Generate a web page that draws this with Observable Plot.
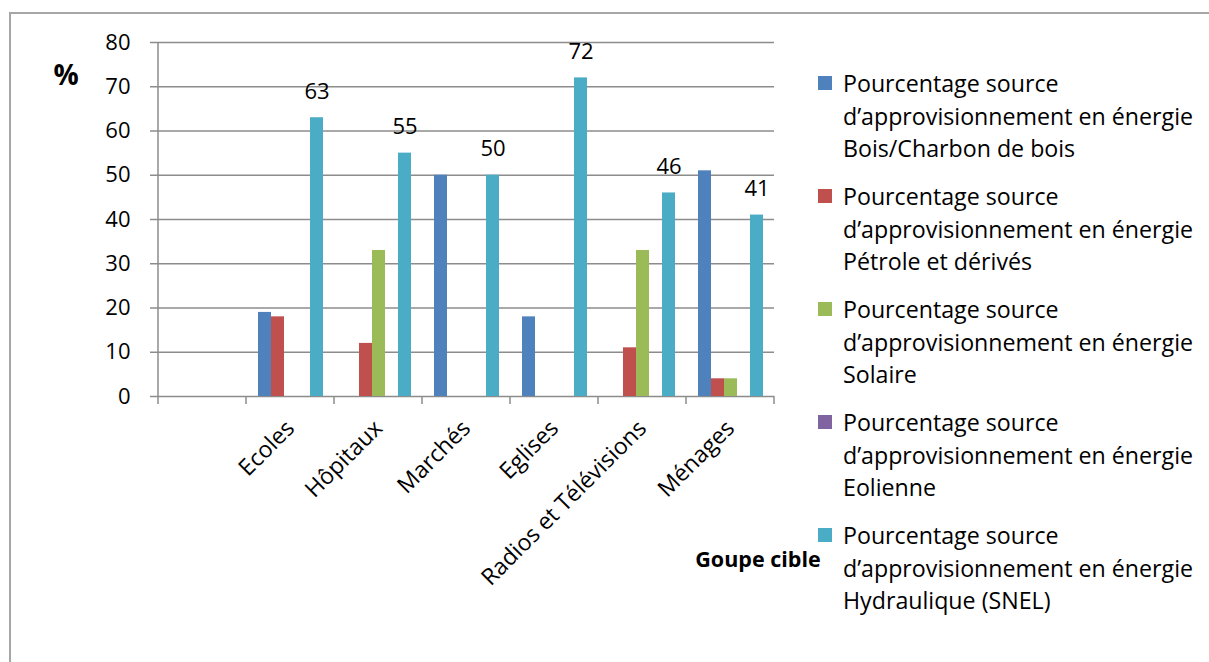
<!DOCTYPE html>
<html><head><meta charset="utf-8">
<script src="https://cdn.jsdelivr.net/npm/d3@7"></script>
<script src="https://cdn.jsdelivr.net/npm/@observablehq/plot@0.6"></script>
<style>
html,body{margin:0;padding:0;background:#fff;overflow:hidden;}
#wrap{position:relative;width:1209px;height:662px;font-family:"Open Sans",sans-serif;color:#000;overflow:hidden;}
#border{position:absolute;left:9px;top:12px;width:1400px;height:800px;border:2px solid #a6a6a6;box-sizing:border-box;}
#chart{position:absolute;left:0;top:0;}
.lbl{position:absolute;transform:translate(-50%,-50%);white-space:nowrap;line-height:1;}
#pct{left:66px;top:74px;font-weight:bold;font-size:28px;}
#xlabel{left:758px;top:559px;font-weight:bold;font-size:21.5px;}
.item{position:absolute;left:818px;font-size:23.2px;line-height:32.5px;white-space:nowrap;}
.item .txt{margin-left:25px;}
.sw{position:absolute;left:0;top:9px;width:14px;height:14px;}
</style></head><body>
<div id="wrap"><div id="border"></div><div id="chart"></div>
<div id="pct" class="lbl">%</div><div id="xlabel" class="lbl">Goupe cible</div></div>
<script>
const categories = ["", "Ecoles", "Hôpitaux", "Marchés", "Eglises", "Radios et Télévisions", "Ménages"];
const seriesPrefix = ["Pourcentage source", "d’approvisionnement en énergie"];
const energySources = ["Bois/Charbon de bois", "Pétrole et dérivés", "Solaire", "Eolienne", "Hydraulique (SNEL)"];
const seriesColors = ["#4F81BD", "#C0504D", "#9BBB59", "#8064A2", "#4BACC6"];
const boisValues = [null, 19, null, 50, 18, null, 51];
const petroleValues = [null, 18, 12, null, null, 11, 4];
const solaireValues = [null, null, 33, null, null, 33, 4];
const eolienneValues = [null, null, null, null, null, null, null];
const hydrauliqueValues = [null, 63, 55, 50, 72, 46, 41];
const yTicks = [0, 10, 20, 30, 40, 50, 60, 70, 80];

const seriesValues = [boisValues, petroleValues, solaireValues, eolienneValues, hydrauliqueValues];
// keep every category/series cell (blank cells stay NaN, so no bar is drawn but the category keeps its slot)
const rows = [];
seriesValues.forEach((vals, s) => vals.forEach((v, i) => {
  rows.push({category: categories[i], source: energySources[s], value: v == null ? NaN : v});
}));
const labelled = rows.filter(d => d.source === energySources[4] && !isNaN(d.value));

const gridColor = "#8c8c8c";
const plot = Plot.plot({
  width: 810, height: 640,
  marginTop: 42, marginBottom: 244, marginLeft: 156, marginRight: 34,
  style: {fontFamily: "'Open Sans', sans-serif", fontSize: "22px", color: "#000", background: "transparent", overflow: "visible"},
  fx: {domain: categories, padding: 0, label: null},
  x: {domain: energySources, paddingInner: 0, paddingOuter: 0.83, axis: null},
  y: {domain: [0, 80], label: null, axis: null},
  color: {domain: energySources, range: seriesColors},
  marks: [
    Plot.ruleY(yTicks, {stroke: gridColor, strokeWidth: 1.5}),
    Plot.barY(rows, {fx: "category", x: "source", y: "value", fill: "source"}),
    Plot.text(labelled, {fx: "category", x: "source", y: "value", text: d => String(d.value), dy: -26, fontSize: 22}),
    Plot.axisY(yTicks, {tickSize: 8, tickPadding: 20, stroke: gridColor, strokeWidth: 1.5, fontSize: 22, label: null}),
    Plot.axisFx({anchor: "bottom", tickRotate: -45, tickSize: 0, tickPadding: 28, fontSize: 23, label: null})
  ]
});
document.getElementById("chart").appendChild(plot);

// Excel-style axis line and category boundary ticks, from Plot's own scales
const fx = plot.scale("fx"), y = plot.scale("y");
const svg = d3.select(plot);
const bounds = categories.map(c => fx.apply(c)).concat([fx.apply(categories[categories.length - 1]) + fx.bandwidth]);
const y0 = y.apply(0), yTop = y.apply(80);
const g = svg.append("g").attr("stroke", gridColor).attr("stroke-width", 1.5);
g.selectAll("line.b").data(bounds).join("line").attr("class", "b")
  .attr("x1", d => d).attr("x2", d => d).attr("y1", y0).attr("y2", y0 + 8);
g.append("line").attr("x1", bounds[0]).attr("x2", bounds[0]).attr("y1", yTop).attr("y2", y0);

// Legend
const wrap = document.getElementById("wrap");
energySources.forEach((s, i) => {
  const it = document.createElement("div");
  it.className = "item";
  it.style.top = (67 + 113 * i) + "px";
  it.innerHTML = `<div class="sw" style="background:${seriesColors[i]}"></div><div class="txt">${seriesPrefix[0]}<br>${seriesPrefix[1]}<br>${s}</div>`;
  wrap.appendChild(it);
});
</script>
</body></html>
